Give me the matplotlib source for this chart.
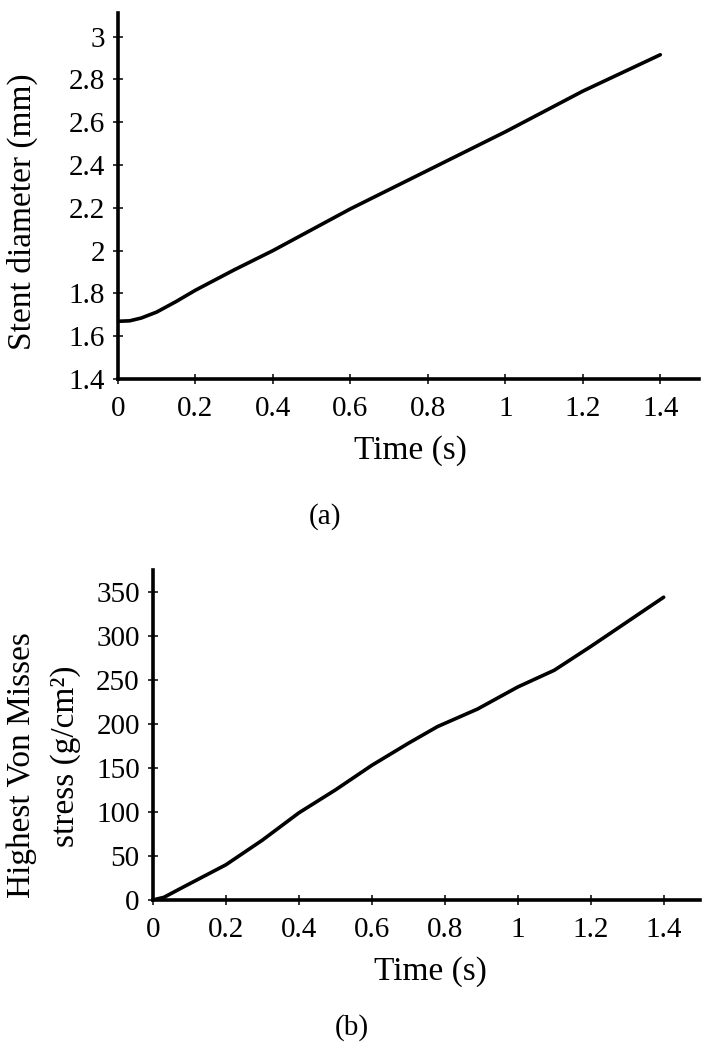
import matplotlib
matplotlib.use("Agg")
import matplotlib.pyplot as plt

plt.rcParams['font.family'] = ['Liberation Serif', 'DejaVu Serif']

# (a) stent diameter vs time
time_a = [0.0, 0.03, 0.06, 0.1, 0.15, 0.2, 0.3, 0.4, 0.6, 0.8, 1.0, 1.2, 1.4]
diameter = [1.67, 1.672, 1.685, 1.713, 1.762, 1.815, 1.91, 2.0, 2.195, 2.375, 2.555, 2.745, 2.915]

# (b) highest von Mises stress vs time
time_b = [0.0, 0.03, 0.08, 0.2, 0.3, 0.4, 0.5, 0.6, 0.7, 0.78, 0.89, 1.0, 1.1, 1.2, 1.3, 1.4]
stress = [0, 3, 14, 40, 68, 99, 125, 153, 178, 197, 217, 242, 261, 288, 316, 344]

x_ticks = [0, 0.2, 0.4, 0.6, 0.8, 1, 1.2, 1.4]
x_labels = ["0", "0.2", "0.4", "0.6", "0.8", "1", "1.2", "1.4"]
ya_ticks = [1.4, 1.6, 1.8, 2, 2.2, 2.4, 2.6, 2.8, 3]
ya_labels = ["1.4", "1.6", "1.8", "2", "2.2", "2.4", "2.6", "2.8", "3"]
yb_ticks = [0, 50, 100, 150, 200, 250, 300, 350]

fs_tick = 21
fs_lab = 24

fig = plt.figure(figsize=(7.06, 10.5), dpi=100)
ax1 = fig.add_axes([0.1671, 0.639, 0.823, 0.3486])
ax2 = fig.add_axes([0.2167, 0.1429, 0.775, 0.3143])


def style(ax):
    for side in ['top', 'right']:
        ax.spines[side].set_visible(False)
    for side in ['left', 'bottom']:
        ax.spines[side].set_linewidth(2.6)
        ax.spines[side].set_color('black')
    ax.tick_params(direction='inout', length=7, width=1.1, labelsize=fs_tick)
    ax.tick_params(axis='x', pad=9)
    ax.tick_params(axis='y', pad=6)
    ax.set_xlim(0, 1.5)
    ax.set_xticks(x_ticks)
    ax.set_xticklabels(x_labels)


ax1.plot(time_a, diameter, color='black', lw=2.6, solid_capstyle='round')
style(ax1)
ax1.set_ylim(1.4, 3.11)
ax1.set_yticks(ya_ticks)
ax1.set_yticklabels(ya_labels)

ax2.plot(time_b, stress, color='black', lw=2.6, solid_capstyle='round')
style(ax2)
ax2.set_ylim(0, 375)
ax2.set_yticks(yb_ticks)

fig.text(410 / 706, 1 - 451 / 1050, "Time (s)", fontsize=fs_lab, ha='center', va='center')
fig.text(430 / 706, 1 - 972 / 1050, "Time (s)", fontsize=fs_lab, ha='center', va='center')
fig.text(325 / 706, 1 - 517 / 1050, "(a)", fontsize=fs_tick, ha='center', va='center')
fig.text(352 / 706, 1 - 1028 / 1050, "(b)", fontsize=fs_tick, ha='center', va='center')

fig.text(22 / 706, 1 - 212 / 1050, "Stent diameter (mm)", fontsize=fs_lab,
         rotation=90, ha='center', va='center')
fig.text(22 / 706, 1 - 765 / 1050, "Highest Von Misses", fontsize=fs_lab,
         rotation=90, ha='center', va='center')
fig.text(66 / 706, 1 - 756 / 1050, "stress (g/cm²)", fontsize=fs_lab,
         rotation=90, ha='center', va='center')

fig.savefig("out.png", dpi=100, facecolor='white')
